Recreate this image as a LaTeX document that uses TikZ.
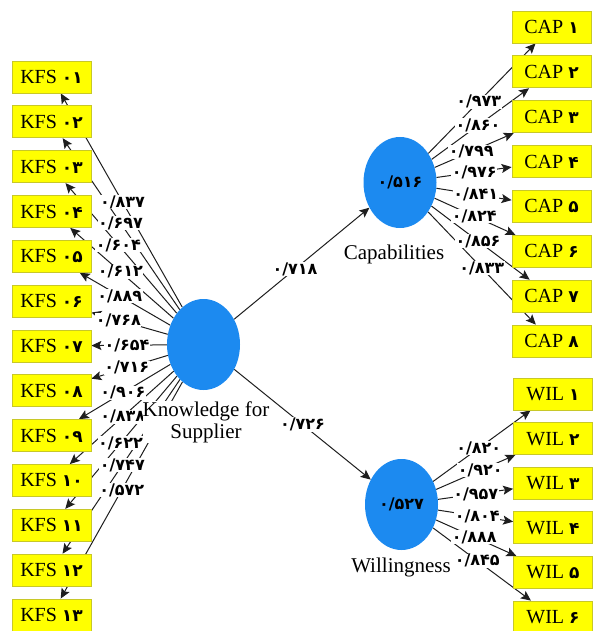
\documentclass[tikz,border=0pt]{standalone}
\usepackage{fontspec}
\setmainfont{Liberation Serif}
\newfontfamily\fa{DejaVu Sans}
\usetikzlibrary{shapes.geometric,arrows.meta,calc}
\pgfdeclarelayer{edges}
\pgfdeclarelayer{lbls}
\pgfsetlayers{edges,lbls,main}
\definecolor{boxfill}{RGB}{255,255,0}
\definecolor{boxline}{RGB}{200,200,40}
\definecolor{lvblue}{RGB}{28,138,240}
\definecolor{lncol}{RGB}{30,30,30}
\tikzset{
 ind/.style={draw=boxline, fill=boxfill, line width=0.8pt, minimum width=79pt, minimum height=32pt, inner sep=0pt, font=\fontsize{20}{22}\selectfont},
 latent/.style={ellipse, fill=lvblue, minimum width=73pt, minimum height=91pt, inner sep=0pt, font=\fa\bfseries\fontsize{16}{18}\selectfont},
 arr/.style={draw=lncol, line width=1pt, -{Stealth[length=10pt,width=9pt,inset=2pt]}},
 coef/.style={fill=white, inner sep=0.5pt, font=\fa\bfseries\fontsize{16}{18}\selectfont},
 lvname/.style={fill=white, inner sep=0pt, align=center, font=\fontsize{21}{22}\selectfont},
}
\newcommand\dg[1]{{\fa\bfseries\fontsize{17}{20}\selectfont #1}}
\begin{document}
\begin{tikzpicture}[x=1pt,y=-1pt]
\useasboundingbox (0,0) rectangle (596,631);
% latent variables
\node[latent] (K) at (203.5,344.5) {};
\node[latent] (C) at (400,182.5) {۰/۵۱۶};
\node[latent] (W) at (401.5,504.5) {۰/۵۲۷};
\node[lvname] (Kn) at (206,422) {Knowledge for\\Supplier};
\node[lvname] (Cn) at (394,254) {Capabilities};
\node[lvname] (Wn) at (401,567) {Willingness};
% indicators
\foreach \i/\t in {1/۰۱,2/۰۲,3/۰۳,4/۰۴,5/۰۵,6/۰۶,7/۰۷,8/۰۸,9/۰۹,10/۱۰,11/۱۱,12/۱۲,13/۱۳}
  \node[ind] (kfs\i) at (51.5,{77+44.83*(\i-1)}) {KFS \dg{\t}};
\foreach \i/\t in {1/۱,2/۲,3/۳,4/۴,5/۵,6/۶,7/۷,8/۸}
  \node[ind] (cap\i) at (551.5,{27+44.86*(\i-1)}) {CAP \dg{\t}};
\foreach \i/\t in {1/۱,2/۲,3/۳,4/۴,5/۵,6/۶}
  \node[ind] (wil\i) at (553,{394+44.6*(\i-1)}) {WIL \dg{\t}};
% connectors
\begin{pgfonlayer}{edges}
\foreach \i in {1,...,13} \draw[arr] (K) -- (kfs\i);
\foreach \i in {1,...,8} \draw[arr] (C) -- (cap\i);
\foreach \i in {1,...,6} \draw[arr] (W) -- (wil\i);
\draw[arr] (K) -- (C);
\draw[arr] (K) -- (W);
\end{pgfonlayer}
% coefficients
\begin{pgfonlayer}{lbls}
\foreach \i/\f/\t in {1/0.533/{۰/۸۳۷},2/0.546/{۰/۶۹۷},3/0.56/{۰/۶۰۴},4/0.547/{۰/۶۱۲},5/0.551/{۰/۸۸۹},6/0.56/{۰/۷۶۸},7/0.503/{۰/۶۵۴},8/0.505/{۰/۷۱۶},9/0.53/{۰/۹۰۶},10/0.531/{۰/۸۳۸},11/0.546/{۰/۶۲۲},12/0.534/{۰/۷۴۷},13/0.538/{۰/۵۷۲}}
  \node[coef] (lk\i) at ($(K)!\f!(kfs\i)$) {\t};
\foreach \i/\f/\t in {1/0.52/{۰/۹۷۳},2/0.515/{۰/۸۶۰},3/0.47/{۰/۷۹۹},4/0.49/{۰/۹۷۶},5/0.5/{۰/۸۴۱},6/0.49/{۰/۸۲۴},7/0.515/{۰/۸۵۶},8/0.54/{۰/۸۳۳}}
  \node[coef] (lc\i) at ($(C)!\f!(cap\i)$) {\t};
\foreach \i/\f/\t in {1/0.51/{۰/۸۲۰},2/0.52/{۰/۹۲۰},3/0.49/{۰/۹۵۷},4/0.5/{۰/۸۰۴},5/0.48/{۰/۸۸۸},6/0.5/{۰/۸۴۵}}
  \node[coef] (lw\i) at ($(W)!\f!(wil\i)$) {\t};
\node[coef] (lkc) at ($(K)!0.466!(C)$) {۰/۷۱۸};
\node[coef] (lkw) at ($(K)!0.5!(W)$) {۰/۷۲۶};
\end{pgfonlayer}
\end{tikzpicture}
\end{document}
